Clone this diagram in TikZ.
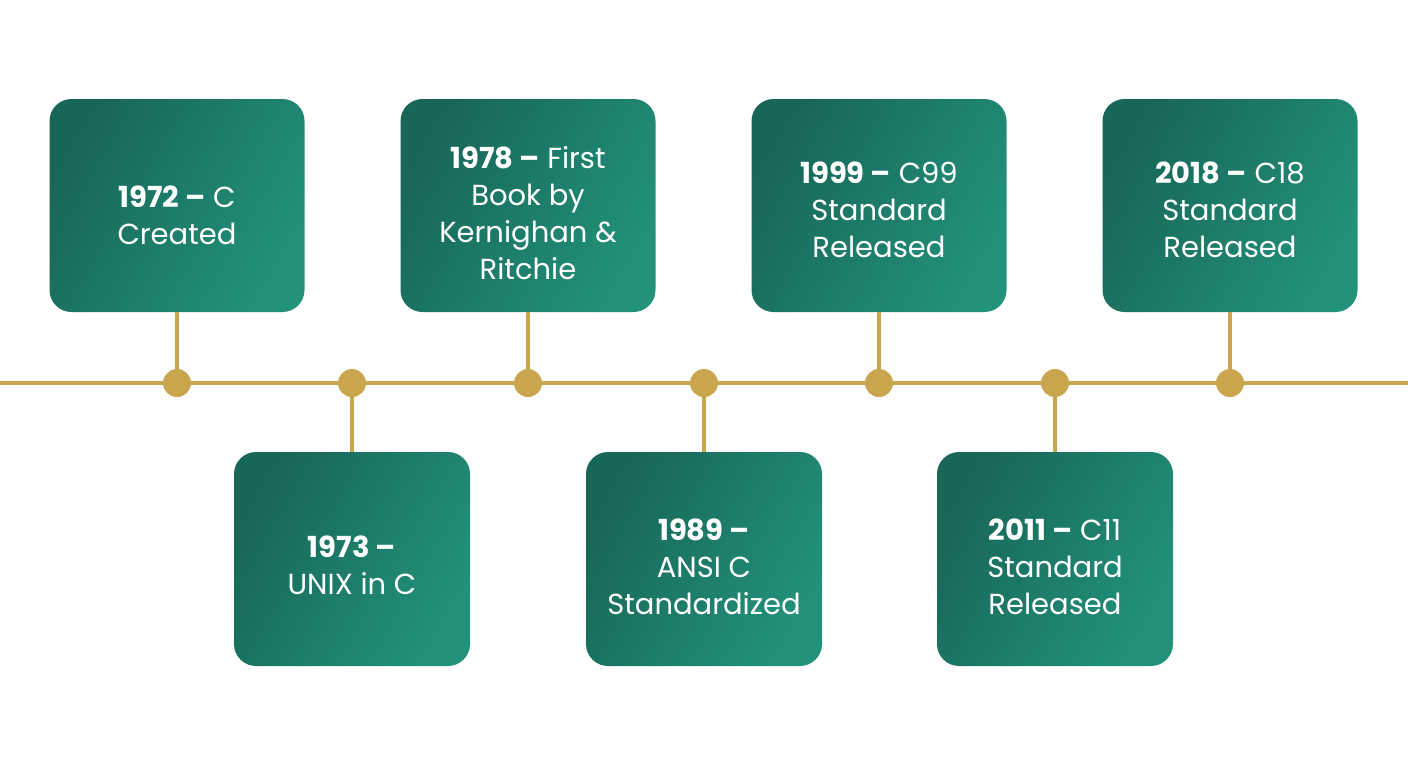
\documentclass[tikz,border=0pt]{standalone}
\usepackage{fontspec}
\setmainfont{Poppins}
\definecolor{tealdark}{RGB}{24,102,88}
\definecolor{teallight}{RGB}{34,146,122}
\definecolor{gold}{RGB}{201,165,77}
\tikzset{
 ev/.style={rounded corners=11pt, left color=tealdark, right color=teallight, shading angle=60, inner sep=0pt},
 top/.style={ev, minimum width=127.5pt, minimum height=106.5pt},
 bot/.style={ev, minimum width=118pt, minimum height=107pt},
 txt/.style={text=white, align=center, font=\fontsize{14.5pt}{18.5pt}\selectfont, inner sep=0pt},
 dot/.style={circle, fill=gold, minimum size=14pt, inner sep=0pt},
 link/.style={draw=gold, line width=1.6pt}
}
\begin{document}
\begin{tikzpicture}[x=0.5pt,y=-0.5pt]
\useasboundingbox (0,0) rectangle (1408,768);
\fill[white] (0,0) rectangle (1408,768);
\coordinate (L) at (0,383); \coordinate (R) at (1408,383);
\draw[link] (L) -- (R);
\node[top] (a) at (177,205.5) {};
\node[bot] (b) at (352,559) {};
\node[top] (c) at (528,205.5) {};
\node[bot] (d) at (704,559) {};
\node[top] (e) at (879,205.5) {};
\node[bot] (f) at (1055,559) {};
\node[top] (g) at (1230,205.5) {};
\node[txt] (ta) at ([yshift=-5pt]a.center) {\textbf{1972 –} C\\Created};
\node[txt] (tb) at ([yshift=-3pt]b.center) {\textbf{1973 –}\\UNIX in C};
\node[txt] (tc) at ([yshift=-4pt]c.center) {\textbf{1978 –} First\\Book by\\Kernighan \&\\Ritchie};
\node[txt] (td) at ([yshift=-4pt]d.center) {\textbf{1989 –}\\ANSI C\\Standardized};
\node[txt] (te) at ([yshift=-2pt]e.center) {\textbf{1999 –} C99\\Standard\\Released};
\node[txt] (tf) at ([yshift=-4pt]f.center) {\textbf{2011 –} C11\\Standard\\Released};
\node[txt] (tg) at ([yshift=-2pt]g.center) {\textbf{2018 –} C18\\Standard\\Released};
\foreach \n/\x in {a/177,b/352,c/528,d/704,e/879,f/1055,g/1230}{
  \node[dot] (d\n) at (\x,383) {};
  \draw[link] (\n) -- (d\n);
}
\end{tikzpicture}
\end{document}
